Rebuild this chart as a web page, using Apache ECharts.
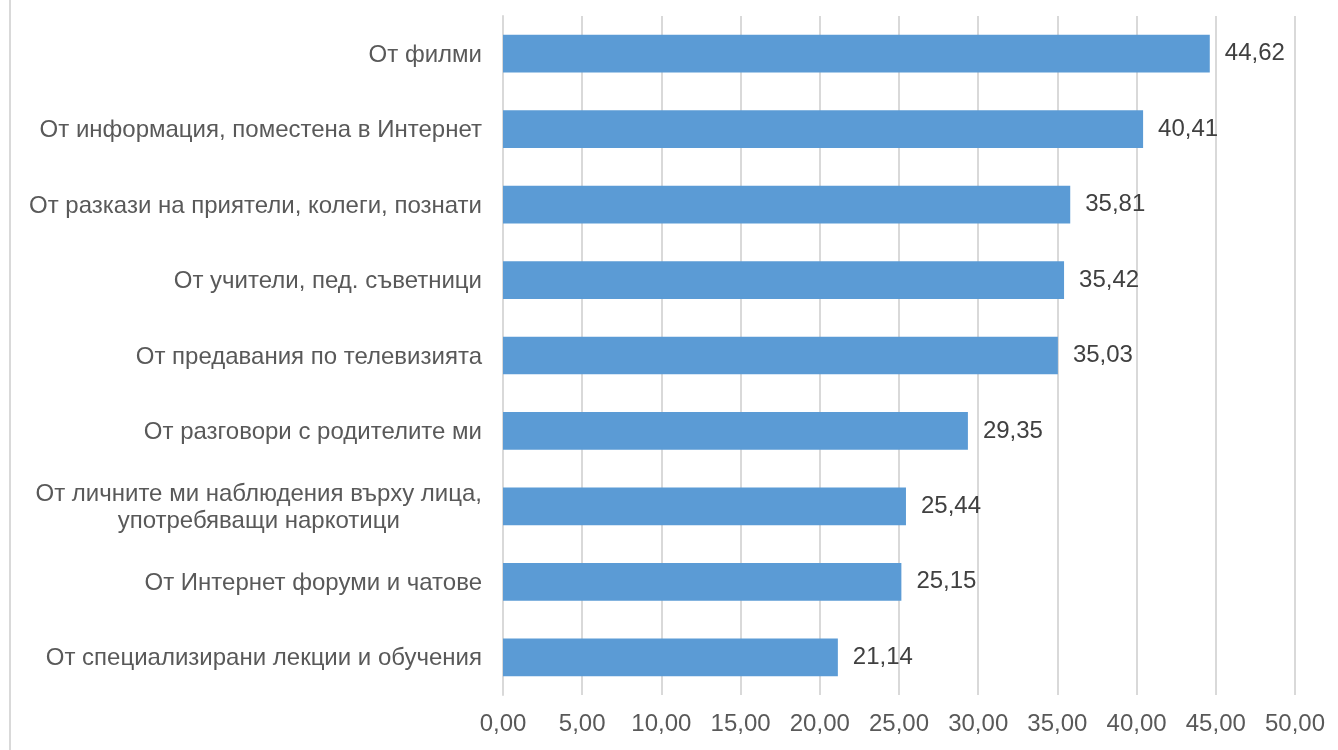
<!DOCTYPE html>
<html>
<head>
<meta charset="utf-8">
<script src="https://cdn.jsdelivr.net/npm/echarts@6/dist/echarts.min.js"></script>
<style>
    html, body { margin: 0; padding: 0; background: #fff; }
    #chart {
        position: absolute;
        left: 9px; top: 0;
        width: 1329px; height: 750px;
        border-left: 2px solid #d9d9d9;
        box-sizing: border-box;
    }
</style>
</head>
<body>
<div id="chart"></div>
<script>
// категории (отгоре надолу)
const categories = [
    'От филми',
    'От информация, поместена в Интернет',
    'От разкази на приятели, колеги, познати',
    'От учители, пед. съветници',
    'От предавания по телевизията',
    'От разговори с родителите ми',
    'От личните ми наблюдения върху лица,\nупотребяващи наркотици',
    'От Интернет форуми и чатове',
    'От специализирани лекции и обучения'
];
const values = [44.62, 40.41, 35.81, 35.42, 35.03, 29.35, 25.44, 25.15, 21.14];
const xTicks = { min: 0, max: 50, interval: 5 };

const fmt = v => v.toFixed(2).replace('.', ',');

const myChart = echarts.init(document.getElementById('chart'));
const option = {
    animation: false,
    textStyle: { fontFamily: 'Liberation Sans, Arial, sans-serif' },
    grid: { left: 492, right: 43, top: 16, bottom: 55, containLabel: false },
    xAxis: {
        type: 'value',
        min: xTicks.min,
        max: xTicks.max,
        interval: xTicks.interval,
        axisLine: { show: false },
        axisTick: { show: false },
        splitLine: { lineStyle: { color: '#d9d9d9', width: 2 } },
        axisLabel: {
            color: '#595959',
            fontSize: 24,
            margin: 17,
            formatter: v => fmt(v)
        }
    },
    yAxis: {
        type: 'category',
        inverse: true,
        data: categories,
        axisLine: { show: true, lineStyle: { color: '#d9d9d9', width: 2 } },
        axisTick: { show: false },
        axisLabel: {
            color: '#595959',
            fontSize: 24,
            margin: 21,
            lineHeight: 27,
            padding: [3, 0, 0, 0],
            formatter: v => v.split('\n').map(s => '{c|' + s + '}').join('\n'),
            rich: { c: { align: 'center', fontSize: 24, color: '#595959', lineHeight: 27 } }
        }
    },
    series: [{
        type: 'bar',
        data: values,
        barCategoryGap: '50%',
        itemStyle: { color: '#5b9bd5' },
        label: {
            show: true,
            position: 'right',
            distance: 15,
            color: '#404040',
            fontSize: 24,
            formatter: p => fmt(p.value)
        }
    }]
};
myChart.setOption(option);
</script>
</body>
</html>
